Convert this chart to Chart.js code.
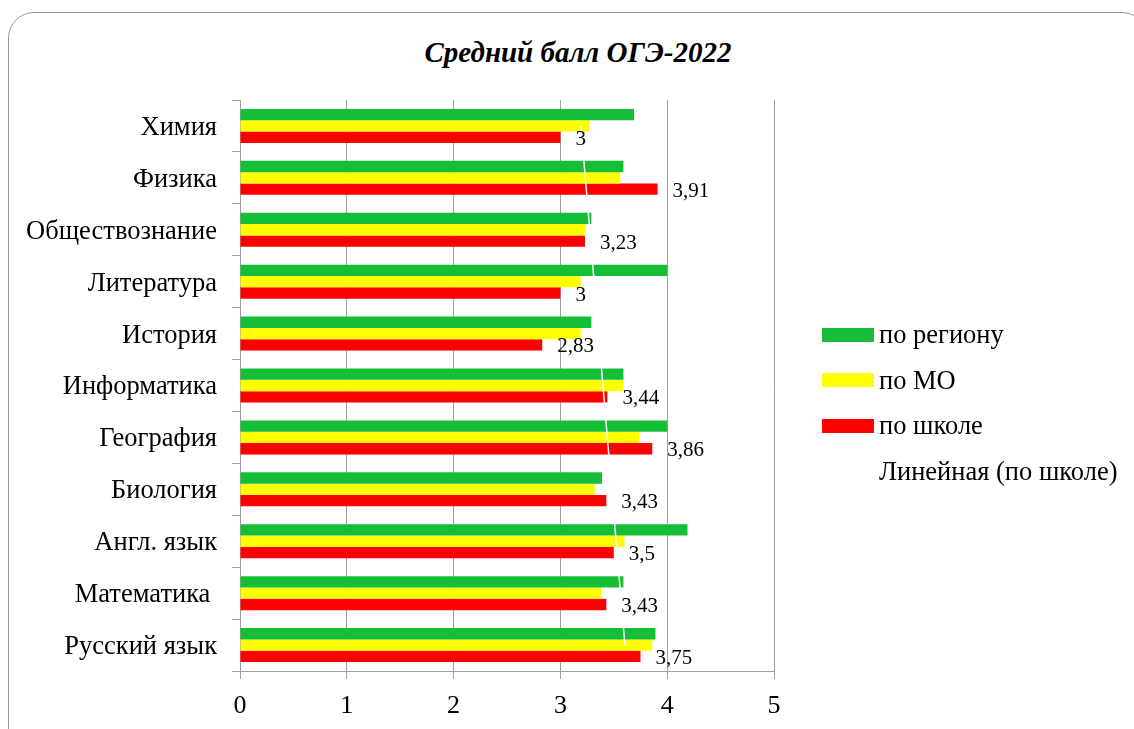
<html>
<head>
    <title>Средний балл ОГЭ-2022</title>
    <meta name="viewport" content="width=device-width, initial-scale=1.0">
    <style>
        body {
            background-color: #ffffff;
            color: #000000;
            font-family: "Liberation Serif", "Times New Roman", serif;
            margin: 0;
            padding: 0;
            overflow: hidden;
        }
        .frame {
            position: absolute;
            left: 8px;
            top: 12px;
            width: 1140px;
            height: 760px;
            border: 1px solid #9a9a9a;
            border-radius: 26px;
            box-sizing: border-box;
        }
        .title {
            position: absolute;
            left: 8px;
            top: 35px;
            width: 1140px;
            text-align: center;
            font-size: 29px;
            line-height: 34px;
            font-weight: bold;
            font-style: italic;
        }
        .chart-box {
            position: absolute;
            left: 8px;
            top: 12px;
            width: 1140px;
            height: 717px;
        }
        .legend {
            position: absolute;
            left: 822px;
            top: 312px;
            font-size: 26.5px;
        }
        .legend div {
            display: flex;
            align-items: center;
            height: 45.5px;
        }
        .legend div span {
            width: 52px;
            height: 14px;
            display: inline-block;
            margin-right: 5px;
        }
        .legend .region span { background-color: #16be38; }
        .legend .mo span { background-color: #ffff00; }
        .legend .school span { background-color: #ff0000; }
        .legend .trend span { background-color: #ffffff; }
    </style>
</head>
<body>
    <div class="frame"></div>
    <div class="title">Средний балл ОГЭ-2022</div>
    <div class="chart-box">
        <canvas id="ogeChart"></canvas>
    </div>
    <div class="legend">
        <div class="region"><span></span>по региону</div>
        <div class="mo"><span></span>по МО</div>
        <div class="school"><span></span>по школе</div>
        <div class="trend"><span></span>Линейная (по школе)</div>
    </div>
    <script src="https://cdn.jsdelivr.net/npm/chart.js"></script>
    <script>
        const subjects = ['Химия', 'Физика', 'Обществознание', 'Литература', 'История', 'Информатика',
            'География', 'Биология', 'Англ. язык', 'Математика ', 'Русский язык'];
        const byRegion = [3.69, 3.59, 3.29, 4.0, 3.29, 3.59, 4.0, 3.39, 4.19, 3.59, 3.89];
        const byMO = [3.27, 3.56, 3.23, 3.19, 3.19, 3.59, 3.74, 3.32, 3.6, 3.38, 3.86];
        const bySchool = [3, 3.91, 3.23, 3, 2.83, 3.44, 3.86, 3.43, 3.5, 3.43, 3.75];
        const xTicks = [0, 1, 2, 3, 4, 5];

        // linear trend of the school values (least squares over category index)
        const n = bySchool.length;
        const meanX = (n - 1) / 2;
        const meanY = bySchool.reduce((a, b) => a + b, 0) / n;
        let sxy = 0, sxx = 0;
        bySchool.forEach((y, i) => {
            sxy += (i - meanX) * (y - meanY);
            sxx += (i - meanX) * (i - meanX);
        });
        const slope = sxy / sxx;
        const trend = bySchool.map((y, i) => meanY + slope * (i - meanX));

        const valueLabels = {
            id: 'valueLabels',
            afterDatasetsDraw(chart) {
                const ctx = chart.ctx;
                const meta = chart.getDatasetMeta(2);
                ctx.save();
                ctx.font = '21px "Liberation Serif"';
                ctx.fillStyle = '#000000';
                ctx.textAlign = 'left';
                ctx.textBaseline = 'middle';
                meta.data.forEach((bar, i) => {
                    const text = String(bySchool[i]).replace('.', ',');
                    ctx.fillText(text, bar.x + 15, bar.y + 2);
                });
                ctx.restore();
            }
        };

        Chart.defaults.font.family = '"Liberation Serif", "Times New Roman", serif';
        Chart.defaults.color = '#000000';

        const ctx = document.getElementById('ogeChart').getContext('2d');
        const ogeChart = new Chart(ctx, {
            type: 'bar',
            data: {
                labels: subjects,
                datasets: [
                    {
                        label: 'по региону',
                        data: byRegion,
                        backgroundColor: '#16be38',
                        order: 1
                    },
                    {
                        label: 'по МО',
                        data: byMO,
                        backgroundColor: '#ffff00',
                        order: 1
                    },
                    {
                        label: 'по школе',
                        data: bySchool,
                        backgroundColor: '#ff0000',
                        order: 1
                    },
                    {
                        type: 'line',
                        label: 'Линейная (по школе)',
                        data: trend,
                        borderColor: '#ffffff',
                        borderWidth: 1.5,
                        pointRadius: 0,
                        fill: false,
                        order: 0
                    }
                ]
            },
            options: {
                indexAxis: 'y',
                responsive: true,
                maintainAspectRatio: false,
                animation: false,
                categoryPercentage: 0.655,
                barPercentage: 1.0,
                layout: {
                    padding: { left: 0, right: 374, top: 88, bottom: 0 }
                },
                scales: {
                    x: {
                        min: 0,
                        max: 5,
                        afterBuildTicks: (scale) => {
                            scale.ticks = xTicks.map(v => ({ value: v }));
                        },
                        afterFit: (scale) => {
                            scale.height = 58;
                        },
                        ticks: {
                            font: { size: 26 },
                            padding: 12
                        },
                        grid: {
                            color: '#a0a0a0',
                            tickLength: 8
                        },
                        border: { color: '#a0a0a0' }
                    },
                    y: {
                        afterFit: (scale) => {
                            scale.width = 232;
                        },
                        ticks: {
                            font: { size: 26.5 },
                            padding: 15,
                            labelOffset: 2
                        },
                        grid: {
                            drawOnChartArea: false,
                            color: '#a0a0a0',
                            tickLength: 8
                        },
                        border: { color: '#a0a0a0' }
                    }
                },
                plugins: {
                    legend: {
                        display: false
                    },
                    tooltip: {
                        enabled: false
                    }
                }
            },
            plugins: [valueLabels]
        });
    </script>
</body>
</html>
